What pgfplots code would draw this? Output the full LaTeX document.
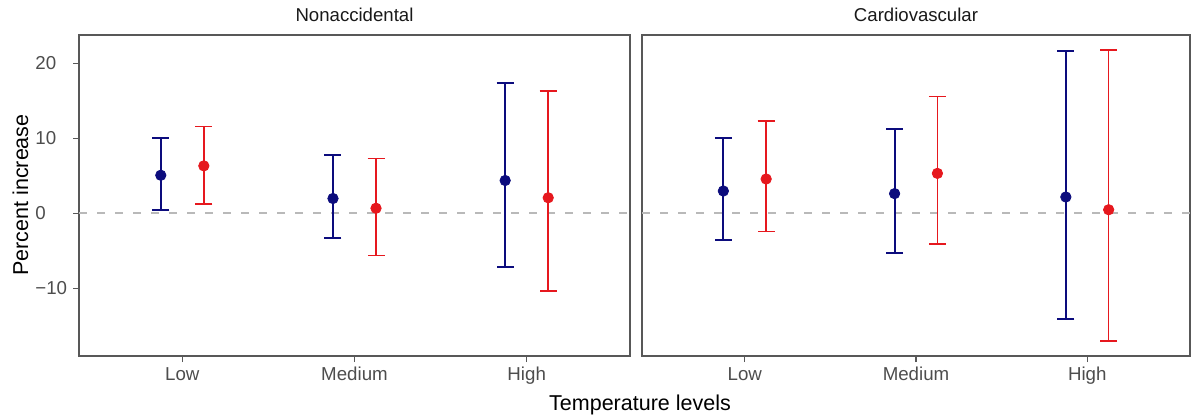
\documentclass[border=0pt]{standalone}
\usepackage{pgfplots}
\pgfplotsset{compat=1.18}
\usepackage{pgfplotstable}
\usepackage{fontspec}
\setmainfont{Liberation Sans}

\definecolor{navyblue}{RGB}{12,12,125}
\definecolor{brightred}{RGB}{230,24,30}
\definecolor{framegray}{RGB}{88,88,88}
\definecolor{ticktext}{RGB}{77,77,77}
\definecolor{zeroline}{RGB}{185,185,185}

% x: category position (Low=1, Medium=2, High=3) dodged by 0.125
% est: percent increase, lo/hi: 95% confidence limits
\pgfplotstableread{
x      est   lo     hi
0.875  5.1   0.45   10.0
1.875  2.0  -3.3    7.8
2.875  4.4  -7.1    17.4
}\nonaccA
\pgfplotstableread{
x      est   lo     hi
1.125  6.35  1.3    11.6
2.125  0.7  -5.6    7.3
3.125  2.1  -10.3   16.3
}\nonaccB
\pgfplotstableread{
x      est   lo     hi
0.875  3.0  -3.5    10.1
1.875  2.65 -5.25   11.2
2.875  2.2  -14.1   21.6
}\cardioA
\pgfplotstableread{
x      est   lo     hi
1.125  4.6  -2.4    12.3
2.125  5.35 -4.05   15.6
3.125  0.5  -17.0   21.8
}\cardioB

\tikzset{panel title/.style={anchor=base, inner sep=0pt, yshift=6.5pt,
    font=\fontsize{9.3pt}{11pt}\selectfont, text=black!90}}

\pgfplotsset{
  panel/.style={
    scale only axis,
    anchor=south west,
    height=160.5pt,
    xmin=0.4, xmax=3.6,
    ymin=-19, ymax=23.8,
    axis line style={framegray, line width=0.9pt},
    tick style={framegray, line width=0.7pt},
    tick align=outside,
    major tick length=3pt,
    xtick pos=bottom, ytick pos=left,
    xtick={1,2,3},
    xticklabels={Low,Medium,High},
    xticklabel style={font=\fontsize{9.35pt}{11pt}\selectfont, text=ticktext,
      anchor=base, yshift=-9pt, inner sep=0pt},
    yticklabel style={font=\fontsize{9.35pt}{11pt}\selectfont, text=ticktext,
      anchor=west, xshift=-19pt, inner sep=0pt},
    clip=false,
  },
  estA/.style={navyblue, line width=1pt, mark=*, mark size=2.6pt,
    mark options={fill=navyblue, draw=navyblue, line width=0.4pt},
    only marks,
    error bars/.cd, y dir=both, y explicit,
    error bar style={navyblue, line width=1pt},
    error mark options={rotate=90, mark size=4.25pt, navyblue, line width=1pt}},
  estB/.style={brightred, line width=0.75pt, mark=*, mark size=2.6pt,
    mark options={fill=brightred, draw=brightred, line width=0.4pt},
    only marks,
    error bars/.cd, y dir=both, y explicit,
    error bar style={brightred, line width=0.75pt},
    error mark options={rotate=90, mark size=4.25pt, brightred, line width=0.75pt}},
  zero/.style={zeroline, line width=1pt, dash pattern=on 4pt off 5pt, no marks},
}

\begin{document}
\begin{tikzpicture}
\useasboundingbox (0,0) rectangle (597.5pt,209pt);

\begin{axis}[panel, at={(39.5pt,31pt)}, width=275.5pt,
  ytick={-10,0,10,20}, yticklabels={−10,0,10,20}]
  \addplot[zero] coordinates {(0.4,0) (3.6,0)};
  \addplot[estA] table[x=x, y=est,
    y error plus expr=\thisrow{hi}-\thisrow{est},
    y error minus expr=\thisrow{est}-\thisrow{lo}] {\nonaccA};
  \addplot[estB] table[x=x, y=est,
    y error plus expr=\thisrow{hi}-\thisrow{est},
    y error minus expr=\thisrow{est}-\thisrow{lo}] {\nonaccB};
  \node[panel title] at (rel axis cs:0.5,1) {Nonaccidental};
\end{axis}

\begin{axis}[panel, at={(321pt,31pt)}, width=274pt,
  ytick=\empty]
  \addplot[zero] coordinates {(0.4,0) (3.6,0)};
  \addplot[estA] table[x=x, y=est,
    y error plus expr=\thisrow{hi}-\thisrow{est},
    y error minus expr=\thisrow{est}-\thisrow{lo}] {\cardioA};
  \addplot[estB] table[x=x, y=est,
    y error plus expr=\thisrow{hi}-\thisrow{est},
    y error minus expr=\thisrow{est}-\thisrow{lo}] {\cardioB};
  \node[panel title] at (rel axis cs:0.5,1) {Cardiovascular};
\end{axis}

% shared axis titles
\node[anchor=base, inner sep=0pt, font=\fontsize{10.75pt}{13pt}\selectfont]
  at (320pt,4pt) {Temperature levels};
\node[anchor=base, rotate=90, inner sep=0pt, font=\fontsize{10.75pt}{13pt}\selectfont]
  at (14pt,111.5pt) {Percent increase};
\end{tikzpicture}
\end{document}
